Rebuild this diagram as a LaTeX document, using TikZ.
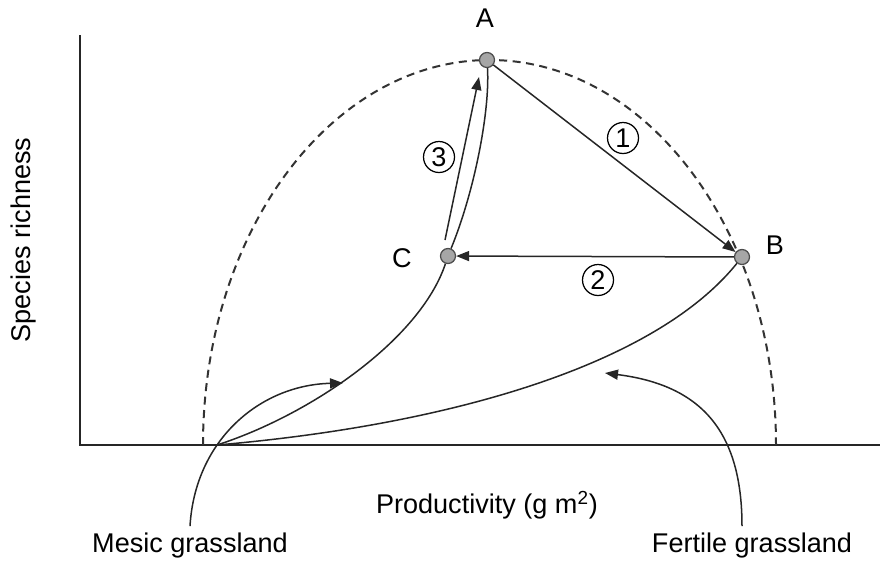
\documentclass[tikz,border=0pt]{standalone}
\usepackage{fontspec}
\setmainfont{Liberation Sans}
\usetikzlibrary{arrows.meta, positioning}

\begin{document}
\begin{tikzpicture}[
    x=0.2mm, y=-0.2mm,
    font=\fontsize{15.4}{18}\selectfont,
    axis/.style={line width=0.4mm, black!85},
    curve/.style={line width=0.3mm, black!85},
    guide/.style={line width=0.4mm, black!80, dash pattern=on 1.6mm off 1.1mm},
    arrow/.style={-{Triangle[length=2.6mm, width=2mm]}, line width=0.3mm, black!85},
    dot/.style={circle, draw=black!70, fill=black!35, line width=0.25mm, minimum size=3mm, inner sep=0pt},
    num/.style={circle, draw, line width=0.25mm, minimum size=6.2mm, inner sep=0pt},
]
    \useasboundingbox (0,0) rectangle (880,560);

    % axes
    \coordinate (O) at (80,445);
    \draw[axis] (80,35) -- (O) -- (880,445);
    \node[rotate=90] (ylab) at (24,240) {Species richness};
    \node (xlab) at (487,505) {Productivity (g m\textsuperscript{2})};

    % hump-backed envelope
    \draw[guide] (203,445) arc[start angle=180, end angle=360, x radius=286.5, y radius=385];

    % states
    \coordinate (M) at (217,445);
    \node[dot] (A) at (487,60) {};
    \node[dot] (B) at (742,257) {};
    \node[dot] (C) at (448,256) {};
    \node (Alab) at (485,18) {A};
    \node (Blab) at (775,245) {B};
    \node (Clab) at (402,258) {C};

    % trajectories from grassland start
    \draw[curve] (M) .. controls (310,415) and (420,340) .. (C);
    \draw[curve] (C) .. controls (475,190) and (490,110) .. (A);
    \draw[curve] (M) .. controls (450,425) and (655,365) .. (B);

    % numbered transitions
    \draw[arrow] (A) -- (B);
    \draw[arrow] (B) -- (C);
    \draw[arrow] ([shift={(-3,-16)}]C.center) -- ([shift={(-8,17)}]A.center);
    \node[num] (n1) at (623,138) {1};
    \node[num] (n2) at (598,280) {2};
    \node[num] (n3) at (439,157) {3};

    % grassland labels
    \node (mesic) at (190,545) {Mesic grassland};
    \node (fertile) at (752,545) {Fertile grassland};
    \coordinate (mtip) at (343,383);
    \coordinate (ftip) at (605,373);
    \draw[arrow] (mesic.north) .. controls (195,440) and (260,385) .. (mtip);
    \draw[arrow] ([xshift=-2mm]fertile.north) .. controls (742,430) and (700,385) .. (ftip);
\end{tikzpicture}
\end{document}
